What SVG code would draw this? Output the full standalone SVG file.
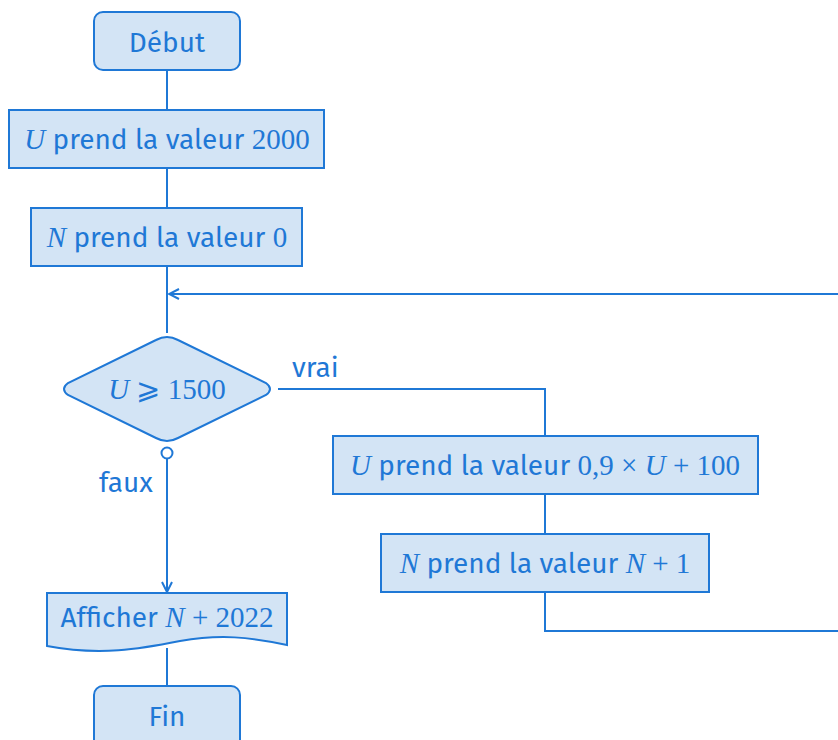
<svg xmlns="http://www.w3.org/2000/svg" width="838" height="740" viewBox="0 0 838 740">
<defs>
<style>
.n{fill:#d3e4f5;stroke:#1f78d6;stroke-width:2}
.c{fill:none;stroke:#1f78d6;stroke-width:2}
text{font-family:"Fira Sans","Noto Sans","Open Sans",sans-serif;font-size:28px;fill:#1f78d6;text-anchor:middle}
.m{font-family:"Liberation Serif","DejaVu Serif",serif;font-size:29px}
.i{font-style:italic}
.l{text-anchor:start}
</style>
<marker id="ah" viewBox="0 0 12 12" refX="11" refY="6" markerWidth="12" markerHeight="12" markerUnits="userSpaceOnUse" orient="auto">
<path d="M1,1 L11,6 L1,11" fill="none" stroke="#1f78d6" stroke-width="2"/>
</marker>
</defs>
<g id="connectors">
<line class="c" x1="167" y1="70" x2="167" y2="110"/>
<line class="c" x1="167" y1="168" x2="167" y2="208"/>
<line class="c" x1="167" y1="266" x2="167" y2="333"/>
<line class="c" x1="838" y1="294" x2="169" y2="294" marker-end="url(#ah)"/>
<polyline class="c" points="278,389 545,389 545,436"/>
<line class="c" x1="545" y1="494" x2="545" y2="534"/>
<polyline class="c" points="545,592 545,631 838,631"/>
<line class="c" x1="167" y1="459" x2="167" y2="592" marker-end="url(#ah)"/>
<circle cx="167" cy="453" r="5.5" fill="#fff" stroke="#1f78d6" stroke-width="2"/>
<line class="c" x1="167" y1="648" x2="167" y2="686"/>
<text class="l" x="292" y="377">vrai</text>
<text class="l" x="99" y="492">faux</text>
</g>
<g id="debut">
<rect class="n" x="94" y="12" width="146" height="58" rx="9"/>
<text x="167" y="52">Début</text>
</g>
<g id="u2000">
<rect class="n" x="9" y="110" width="315" height="58"/>
<text x="167" y="149"><tspan class="m i">U</tspan> prend la valeur <tspan class="m">2000</tspan></text>
</g>
<g id="n0">
<rect class="n" x="31" y="208" width="271" height="58"/>
<text x="167" y="247"><tspan class="m i">N</tspan> prend la valeur <tspan class="m">0</tspan></text>
</g>
<g id="test">
<path class="n" d="M156,340 Q167,334 178,340 L266,383 Q274,389 266,395 L178,438 Q167,444 156,438 L68,395 Q60,389 68,383 Z"/>
<text x="167" y="399" class="m"><tspan class="i">U</tspan> ⩾ 1500</text>
</g>
<g id="u-update">
<rect class="n" x="333" y="436" width="425" height="58"/>
<text x="545" y="475"><tspan class="m i">U</tspan> prend la valeur <tspan class="m">0,9 × </tspan><tspan class="m i">U</tspan><tspan class="m"> + 100</tspan></text>
</g>
<g id="n-update">
<rect class="n" x="381" y="534" width="328" height="58"/>
<text x="545" y="573"><tspan class="m i">N</tspan> prend la valeur <tspan class="m i">N</tspan><tspan class="m"> + 1</tspan></text>
</g>
<g id="afficher">
<path class="n" d="M47,593 L287,593 L287,645 C250,637 220,634 180,641 C140,649 100,656 47,646 Z"/>
<text x="167" y="627">Afficher <tspan class="m i">N</tspan><tspan class="m"> + 2022</tspan></text>
</g>
<g id="fin">
<rect class="n" x="94" y="686" width="146" height="64" rx="9"/>
<text x="167" y="726">Fin</text>
</g>
</svg>
